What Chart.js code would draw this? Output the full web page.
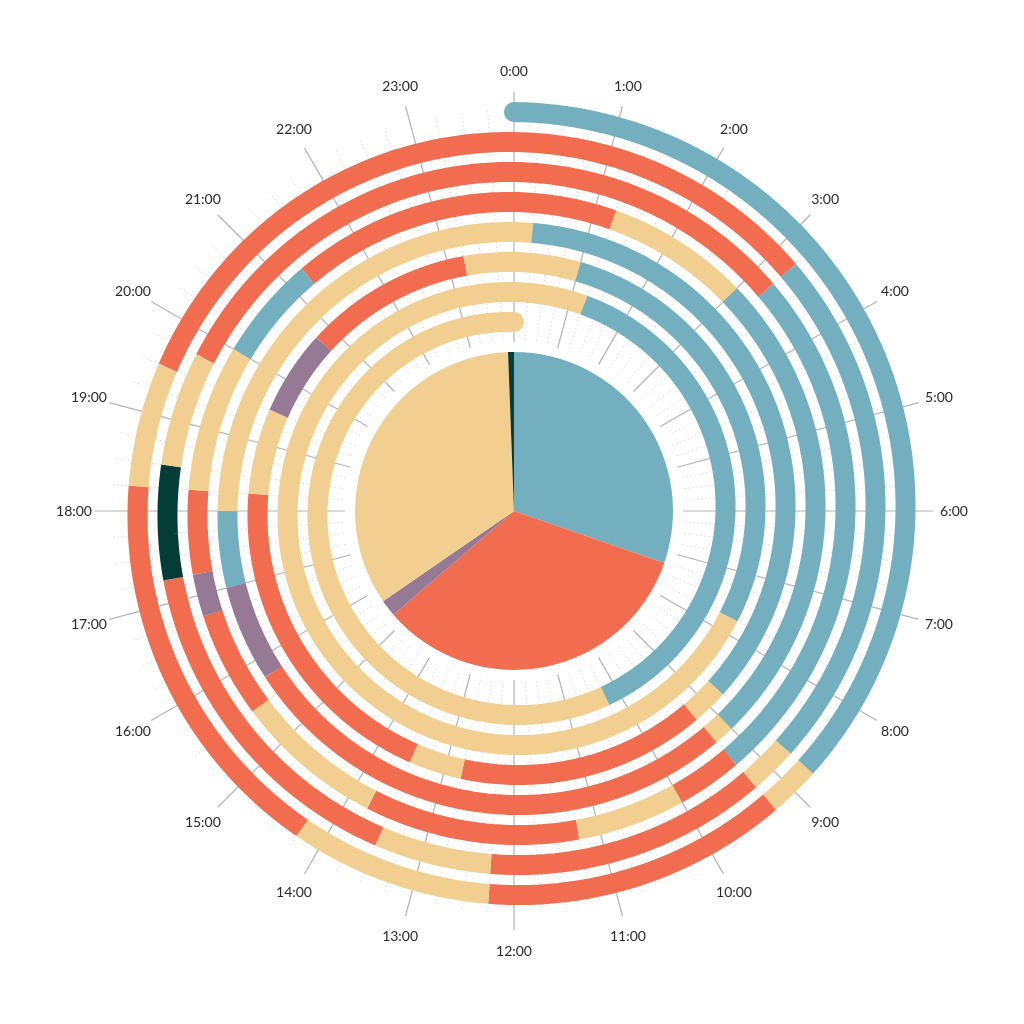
<!DOCTYPE html>
<html>
<head>
<meta charset="utf-8">
<title>Week spiral</title>
<script src="https://cdn.jsdelivr.net/npm/chart.js@4.4.0/dist/chart.umd.min.js"></script>
<style>
  html, body { margin: 0; padding: 0; background: #fff; }
  #wrap { position: relative; width: 1024px; height: 1024px; }
  #spiral { position: absolute; left: 0; top: 0; }
  #pie { position: absolute; left: 355px; top: 352px; }
</style>
</head>
<body>
<div id="wrap">
  <canvas id="spiral" width="1024" height="1024"></canvas>
  <canvas id="pie" width="318" height="318"></canvas>
</div>
<script>
const hourLabels = [
  "0:00", "1:00", "2:00", "3:00", "4:00", "5:00", "6:00", "7:00",
  "8:00", "9:00", "10:00", "11:00", "12:00", "13:00", "14:00", "15:00",
  "16:00", "17:00", "18:00", "19:00", "20:00", "21:00", "22:00", "23:00"
];

const activities = ["sleep", "work", "leisure", "sport", "travel"];
const activityColors = ["#73afbf", "#f26c4f", "#f0cf91", "#967994", "#043d36"];

// start of each block, in hours counted from the first 0:00 (7 days = 168 h)
const segStart = [
  0, 8.75, 9.25, 12.25, 14.25, 18.25, 19.5,
  27.25, 32.75, 33.25, 36.25, 37.5, 41.25, 42.5, 43.75,
  51.25, 57.25, 58, 59.25, 61.75, 63.5, 64.75, 65.25, 66.25, 68, 69.25,
  73.25, 75, 81, 81.25, 87.75, 89, 90,
  96.25, 104.75, 105.25, 108.75, 109.5, 114.25, 115.5, 116.75, 119.25,
  121, 127.75,
  145.25, 154.25
];
const segActivity = [
  "sleep", "leisure", "work", "leisure", "work", "leisure", "work",
  "sleep", "leisure", "work", "leisure", "work", "travel", "leisure", "work",
  "sleep", "work", "leisure", "work", "leisure", "work", "sport", "work", "leisure", "sleep", "work",
  "leisure", "sleep", "leisure", "work", "sport", "sleep", "leisure",
  "sleep", "leisure", "work", "leisure", "work", "leisure", "sport", "work", "leisure",
  "sleep", "leisure",
  "sleep", "leisure"
];
const weekEnd = 168;

// share of the week, clockwise from the top of the pie
const pieOrder = ["sleep", "work", "sport", "leisure", "travel"];
const pieShare = [30.3, 33.4, 1.7, 34.0, 0.6];

const R0 = 399, STEP = 30;

function colorOf(a) {
  return activityColors[activities.indexOf(a)];
}

function spiralPoint(h, r) {
  const ang = h / 24 * 2 * Math.PI;
  const rad = r !== undefined ? r : R0 - STEP * h / 24;
  return { x: rad * Math.sin(ang), y: rad * Math.cos(ang) };
}

// hour spokes and quarter-hour dotted ticks
const spokePts = [];
const tickPts = [];
for (let q = 0; q < 96; q++) {
  const h = q / 4;
  if (q % 4 === 0) {
    spokePts.push(spiralPoint(h, 169), spiralPoint(h, 419), { x: null, y: null });
  } else {
    tickPts.push(spiralPoint(h, 172), spiralPoint(h, 402), { x: null, y: null });
  }
}

const n = segStart.length;
const segDatasets = segStart.map((s, i) => {
  const e = i < n - 1 ? segStart[i + 1] : weekEnd;
  const pts = [];
  for (let h = s; h < e - 0.01; h += 0.1) pts.push(spiralPoint(h));
  pts.push(spiralPoint(e));
  const capped = i === 0 || i === n - 1;
  return {
    label: segActivity[i],
    data: pts,
    showLine: true,
    borderColor: colorOf(segActivity[i]),
    borderWidth: 20,
    borderCapStyle: capped ? "round" : "butt",
    borderJoinStyle: "round",
    tension: 0.01, // keeps chart.js off its per-pixel fast path, which chops near-vertical arcs
    pointRadius: 0,
    order: i === n - 1 ? 5000 : n - i
  };
});

const hourLabelPlugin = {
  id: "hourLabels",
  afterDatasetsDraw(chart) {
    const { ctx } = chart;
    const sx = chart.scales.x, sy = chart.scales.y;
    ctx.save();
    ctx.font = "14px Lato";
    ctx.fillStyle = "#2a2a2a";
    ctx.textAlign = "center";
    ctx.textBaseline = "middle";
    hourLabels.forEach((lab, i) => {
      const p = spiralPoint(i, 440);
      ctx.fillText(lab, sx.getPixelForValue(p.x), sy.getPixelForValue(p.y));
    });
    ctx.restore();
  }
};

new Chart(document.getElementById("spiral"), {
  type: "scatter",
  data: {
    datasets: [
      {
        data: spokePts, showLine: true, borderColor: "#b4b4b4", borderWidth: 1.2,
        pointRadius: 0, order: 10000
      },
      {
        data: tickPts, showLine: true, borderColor: "#c6c6c6", borderWidth: 1,
        borderDash: [1, 3], pointRadius: 0, order: 9999
      },
      ...segDatasets
    ]
  },
  options: {
    responsive: false,
    animation: false,
    events: [],
    layout: { padding: 0 },
    scales: {
      x: { type: "linear", min: -514, max: 510, display: false },
      y: { type: "linear", min: -513, max: 511, display: false }
    },
    plugins: { legend: { display: false }, tooltip: { enabled: false } }
  },
  plugins: [hourLabelPlugin]
});

new Chart(document.getElementById("pie"), {
  type: "pie",
  data: {
    labels: pieOrder,
    datasets: [{
      data: pieShare,
      backgroundColor: pieOrder.map(colorOf),
      borderWidth: 0
    }]
  },
  options: {
    responsive: false,
    animation: false,
    events: [],
    layout: { padding: 0 },
    plugins: { legend: { display: false }, tooltip: { enabled: false } }
  }
});
</script>
</body>
</html>
